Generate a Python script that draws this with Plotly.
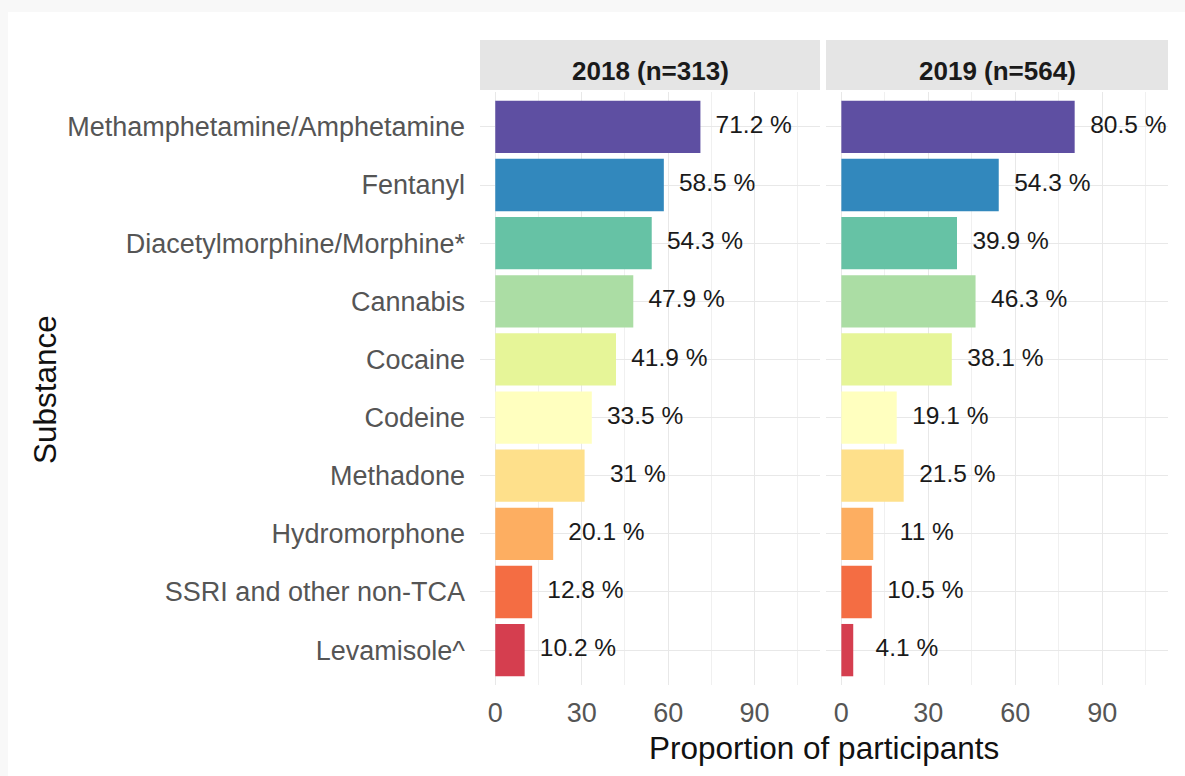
import plotly.graph_objects as go

substances = ["Methamphetamine/Amphetamine", "Fentanyl", "Diacetylmorphine/Morphine*",
              "Cannabis", "Cocaine", "Codeine", "Methadone", "Hydromorphone",
              "SSRI and other non-TCA", "Levamisole^"]
pct_2018 = [71.2, 58.5, 54.3, 47.9, 41.9, 33.5, 31, 20.1, 12.8, 10.2]
pct_2019 = [80.5, 54.3, 39.9, 46.3, 38.1, 19.1, 21.5, 11, 10.5, 4.1]
panels = ["2018 (n=313)", "2019 (n=564)"]
ticks = [0, 30, 60, 90]
# Spectral 10-class, one colour per substance
colors = ["#5E4FA2", "#3288BD", "#66C2A5", "#ABDDA4", "#E6F598",
          "#FFFFBF", "#FEE08B", "#FDAE61", "#F46D43", "#D53E4F"]

W, H = 1185, 776
font = "Liberation Sans, Arial, sans-serif"
label_off = 18.5

fig = go.Figure()
for i, vals in enumerate([pct_2018, pct_2019]):
    xa = "x" if i == 0 else "x2"
    fig.add_trace(go.Bar(x=vals, y=substances, orientation="h", marker_color=colors,
                         marker_line_width=0, width=0.9, xaxis=xa, yaxis="y",
                         showlegend=False, hoverinfo="x+y"))
    fig.add_trace(go.Scatter(x=[v + label_off for v in vals], y=substances, mode="text",
                             text=[f"{v:g} %" for v in vals], textposition="middle center",
                             textfont=dict(size=24.5, color="#1a1a1a", family=font),
                             xaxis=xa, yaxis="y", showlegend=False, hoverinfo="skip"))

def px_x(p):
    return p / W

def px_y(p):
    return 1 - p / H

dom1 = [px_x(480), px_x(820)]
dom2 = [px_x(826), px_x(1168)]
xcommon = dict(range=[-5.3, 112.7], tickvals=ticks, showgrid=True, gridcolor="#e8e8e8",
               gridwidth=1.3, zeroline=False, showline=False,
               tickfont=dict(size=27, color="#555555", family=font),
               ticklabelstandoff=9, minor=dict(tickvals=[15, 45, 75, 105], showgrid=True,
                                              gridcolor="#f0f0f0", gridwidth=1))

fig.update_layout(
    width=W, height=H, margin=dict(l=0, r=0, t=0, b=0),
    paper_bgcolor="#f8f8f8", plot_bgcolor="white",
    font=dict(family=font),
    bargap=0.1,
    xaxis=dict(domain=dom1, anchor="y", **xcommon),
    xaxis2=dict(domain=dom2, anchor="y", **xcommon),
    yaxis=dict(domain=[px_y(685), px_y(92)], range=[9.6, -0.6], type="category",
               showgrid=True, gridcolor="#e8e8e8", gridwidth=1.3, showline=False,
               tickfont=dict(size=27, color="#555555", family=font),
               ticklabelstandoff=14),
    shapes=[
        dict(type="rect", xref="paper", yref="paper", x0=px_x(8), x1=1, y0=0, y1=px_y(12),
             fillcolor="white", line_width=0, layer="below"),
        dict(type="rect", xref="paper", yref="paper", x0=dom1[0], x1=dom1[1],
             y0=px_y(90), y1=px_y(40), fillcolor="#e5e5e5", line_width=0, layer="below"),
        dict(type="rect", xref="paper", yref="paper", x0=dom2[0], x1=dom2[1],
             y0=px_y(90), y1=px_y(40), fillcolor="#e5e5e5", line_width=0, layer="below"),
    ],
    annotations=[
        dict(text=f"<b>{panels[0]}</b>", xref="paper", yref="paper", x=sum(dom1) / 2,
             y=px_y(71), xanchor="center", yanchor="middle", showarrow=False,
             font=dict(size=26, color="#1a1a1a")),
        dict(text=f"<b>{panels[1]}</b>", xref="paper", yref="paper", x=sum(dom2) / 2,
             y=px_y(71), xanchor="center", yanchor="middle", showarrow=False,
             font=dict(size=26, color="#1a1a1a")),
        dict(text="Proportion of participants", xref="paper", yref="paper",
             x=(dom1[0] + dom2[1]) / 2, y=px_y(748), xanchor="center", yanchor="middle",
             showarrow=False, font=dict(size=31.5, color="#111111")),
        dict(text="Substance", xref="paper", yref="paper", x=px_x(45), y=px_y(390),
             xanchor="center", yanchor="middle", textangle=-90, showarrow=False,
             font=dict(size=31.5, color="#111111")),
    ],
)

fig.write_html("out.html", config={"displayModeBar": False},
               post_script="document.body.style.margin='0';")
